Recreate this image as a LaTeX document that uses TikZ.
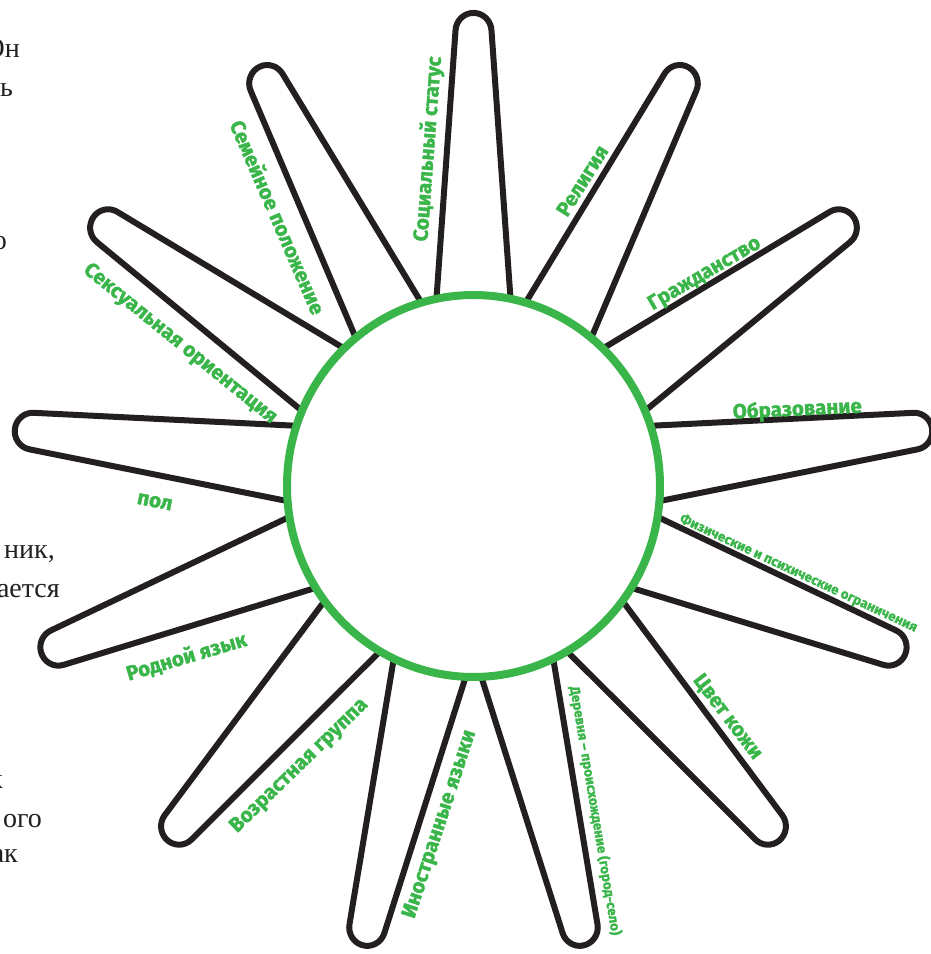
\documentclass[tikz,border=0pt]{standalone}
\usepackage{fontspec}
\setmainfont{Liberation Serif}
\setsansfont{Fira Sans}[BoldFeatures={FakeBold=1.6}]
\definecolor{sunGreen}{HTML}{39B54A}
\definecolor{inkBlack}{HTML}{231F20}
\tikzset{
    petal/.style={draw=inkBlack, line width=6pt, line join=round},
    hub/.style={circle, draw=sunGreen, line width=8pt, fill=white, minimum size=373pt, inner sep=0pt},
    lbl/.style={text=sunGreen, inner sep=0pt, font=\sffamily\bfseries\fontsize{20.5}{22}\selectfont},
    smalllbl/.style={lbl, font=\sffamily\bfseries\fontsize{13.5}{15}\selectfont},
    pagetext/.style={text=inkBlack, anchor=base east, inner sep=0pt, font=\fontsize{28}{32}\selectfont}
}
\begin{document}
\begin{tikzpicture}
        \useasboundingbox (-473.5pt,-468pt) rectangle (456.5pt,486pt);

        % Petals and hub
        \begin{scope}[yscale=1.024]
        \foreach \ang in {90,62.31,34.62,6.92,-20.77,-48.46,-76.15,-103.85,-131.54,-159.23,173.08,145.38,117.69}
            \draw[petal] (\ang+11.5:186pt) -- ([shift={(\ang+85.8:18pt)}]\ang:444pt)
                arc[start angle=\ang+85.8, end angle=\ang-85.8, radius=18pt] -- (\ang-11.5:186pt);
        \node[hub, transform shape] (hub) at (0,0) {};
        \end{scope}

        % Labels
        \foreach \ang/\off/\dist/\sty/\txt [count=\i] in {
            90/7.6/342/lbl/Социальный статус,
            62.31/8.2/326/lbl/Религия,
            34.62/8.1/315/lbl/Гражданство,
            6.92/6.6/333/lbl/Образование,
            -20.77/6/336/smalllbl/Физические и психические ограничения,
            -48.46/6.4/342/lbl/Цвет кожи,
            -76.15/6.8/345/smalllbl/Деревня – происхождение (город-село),
            -103.85/8.2/338/lbl/Иностранные языки,
            -131.54/9.5/328/lbl/Возрастная группа,
            -159.23/9.7/333/lbl/Родной язык,
            173.08/9.4/319/lbl/пол,
            145.38/8.5/327/lbl/Сексуальная ориентация,
            117.69/8.1/334/lbl/Семейное положение}
        {
            \pgfmathsetmacro\rot{mod(\ang-4.3+810,180)-90}
            \node[\sty, rotate=\rot] (lbl\i) at ([yshift=-2pt]\ang+\off:\dist pt) {\txt};
        }

        % Page text cut off at the left edge
        \node[pagetext] (frag1) at (-453.5pt,428pt) {Он};
        \node[pagetext] (frag2) at (-460.5pt,389pt) {ь};
        \node[pagetext] (frag3) at (-466.5pt,236pt) {о};
        \node[pagetext] (frag4) at (-418.5pt,-72pt) {ник,};
        \node[pagetext] (frag5) at (-413.5pt,-111pt) {ается};
        \node[pagetext] (frag6) at (-470.5pt,-302pt) {к};
        \node[pagetext] (frag7) at (-431.5pt,-341pt) {ого};
        \node[pagetext] (frag8) at (-455.5pt,-376pt) {ак};
\end{tikzpicture}
\end{document}
